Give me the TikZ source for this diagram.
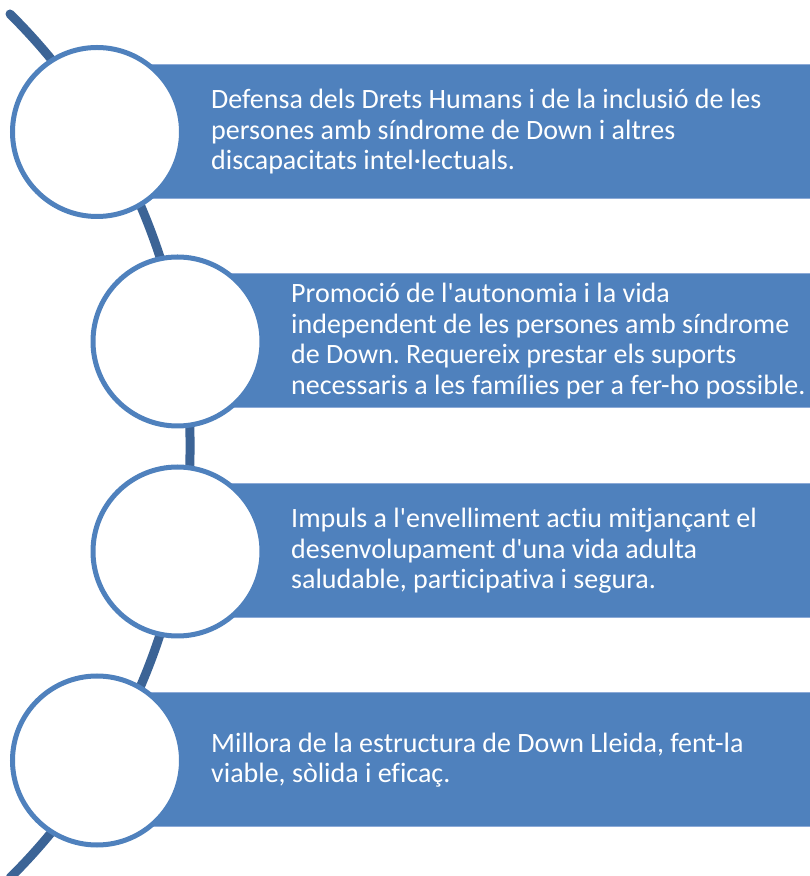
\documentclass[tikz,border=0pt]{standalone}
\usepackage{fontspec}
\setmainfont{Carlito}[Ligatures={TeXOff,NoCommon}]
\definecolor{boxblue}{RGB}{79,129,189}
\definecolor{spine}{RGB}{60,100,150}
\definecolor{edgeblue}{RGB}{140,170,215}
\frenchspacing
\begin{document}
\begin{tikzpicture}[x=1pt,y=1pt,
  bubble/.style={circle, draw=boxblue, fill=white, line width=5pt, minimum size=169pt, inner sep=0pt},
  band/.style={rectangle, fill=boxblue, draw=edgeblue, line width=0.8pt, inner sep=0pt, anchor=south west, minimum height=134pt},
  lbl/.style={anchor=west, align=left, text=white, inner sep=0pt, font=\fontsize{28}{30.5}\selectfont},
  spineline/.style={draw=spine, line width=9pt, line cap=round}]
\useasboundingbox (0,0) rectangle (810,876);
% spine
\coordinate (stop) at (10,862);
\draw[spineline] (stop) arc[start angle=45.26, end angle=-45.26, radius=608.1];
% bands
\node[band, minimum width=714pt] (r1) at (97,677) {};
\node[band, minimum width=633.5pt] (r2) at (177.5,468) {};
\node[band, minimum width=633.5pt] (r3) at (177.5,258) {};
\node[band, minimum width=714pt] (r4) at (97,49) {};
% circles
\node[bubble] (c1) at (97,744) {};
\node[bubble] (c2) at (177.5,534.5) {};
\node[bubble] (c3) at (177.5,324.5) {};
\node[bubble] (c4) at (97,115.5) {};
% texts
\node[lbl] (t1) at (211,744) {Defensa dels Drets Humans i de la inclusió de les\\persones amb síndrome de Down i altres\\discapacitats intel·lectuals.};
\node[lbl] (t2) at (291,535) {Promoció de l'autonomia i la vida\\independent de les persones amb síndrome\\de Down. Requereix prestar els suports\\necessaris a les famílies per a fer-ho possible.};
\node[lbl] (t3) at (291,325) {Impuls a l'envelliment actiu mitjançant el\\desenvolupament d'una vida adulta\\saludable, participativa i segura.};
\node[lbl] (t4) at (211,116) {Millora de la estructura de Down Lleida, fent-la\\viable, sòlida i eficaç.};
\end{tikzpicture}
\end{document}
